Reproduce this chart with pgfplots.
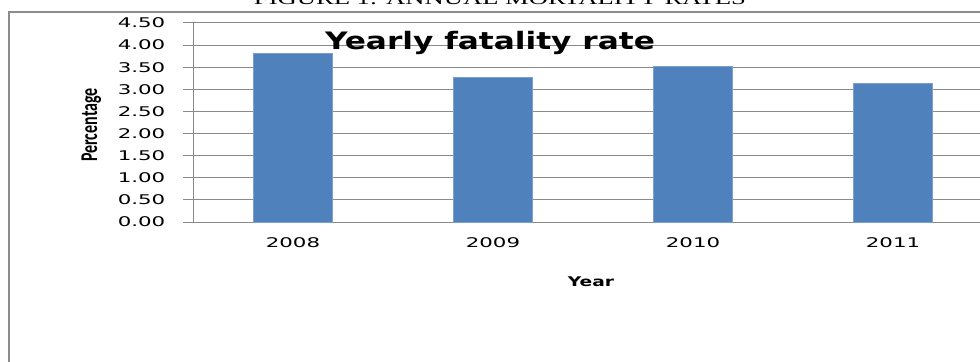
\documentclass[border=0pt]{standalone}
\usepackage{fontspec}
\usepackage{pgfplots}
\pgfplotsset{compat=1.18}
\setmainfont{DejaVu Sans}
\newfontfamily\tickfont[FakeStretch=1.6]{DejaVu Sans}
\newfontfamily\titlefont[FakeStretch=1.3]{DejaVu Sans Bold}
\newfontfamily\yearfont[FakeStretch=1.4]{DejaVu Sans Bold}
\newfontfamily\figfont[FakeStretch=1.5]{Liberation Serif}
\newfontfamily\calfont{Carlito Bold}
\definecolor{barblue}{HTML}{4F81BD}
\definecolor{baredge}{HTML}{7B9FCF}
\definecolor{gridgray}{HTML}{8A8A8A}
\definecolor{framegray}{HTML}{8C8C8C}
\begin{document}
\begin{tikzpicture}
\useasboundingbox (0pt,0pt) rectangle (735pt,270.75pt);
\clip (0pt,0pt) rectangle (735pt,270.75pt);
\draw[framegray, line width=1.5pt] (6.5pt,-20pt) -- (6.5pt,261.75pt) -- (760pt,261.75pt);
\node[anchor=base, inner sep=0pt] at (375pt,267pt) {\figfont\fontsize{13.3}{15}\selectfont FIGURE 1: ANNUAL MORTALITY RATES};
\begin{axis}[
  at={(144.75pt,104.25pt)}, anchor=south west,
  scale only axis, width=600pt, height=149.25pt,
  xmin=-0.5, xmax=3.5, ymin=0, ymax=4.5,
  axis lines=left, axis line style={-, draw=gridgray, line width=0.75pt},
  ymajorgrids, grid style={draw=gridgray, line width=0.75pt},
  ytick={0,0.5,1,1.5,2,2.5,3,3.5,4,4.5},
  yticklabels={0.00,0.50,1.00,1.50,2.00,2.50,3.00,3.50,4.00,4.50},
  yticklabel style={font=\tickfont\fontsize{10}{12}\selectfont},
  yticklabel shift=9.75pt,
  ytick style={draw=gridgray, line width=0.75pt},
  tick align=outside, major tick length=7.5pt,
  xtick={0,1,2,3}, xticklabels={2008,2009,2010,2011},
  xtick style={draw=none},
  xticklabel style={font=\tickfont\fontsize{10}{12}\selectfont},
  xticklabel shift=1pt,
  ybar, bar width=59.25pt,
]
\addplot[fill=barblue, draw=baredge, line width=0.75pt] coordinates {(0,3.82) (1,3.26) (2,3.51) (3,3.14)};
\end{axis}
\node[anchor=base, inner sep=0pt] at (367.5pt,233.25pt) {\titlefont\fontsize{18}{20}\selectfont Yearly fatality rate};
\node[anchor=base, inner sep=0pt] at (443.25pt,56.25pt) {\yearfont\fontsize{10}{12}\selectfont Year};
\node[rotate=90, anchor=base, inner sep=0pt] at (72.75pt,177pt) {\scalebox{1}[1.5]{\calfont\fontsize{12}{14}\selectfont Percentage}};
\end{tikzpicture}
\end{document}
